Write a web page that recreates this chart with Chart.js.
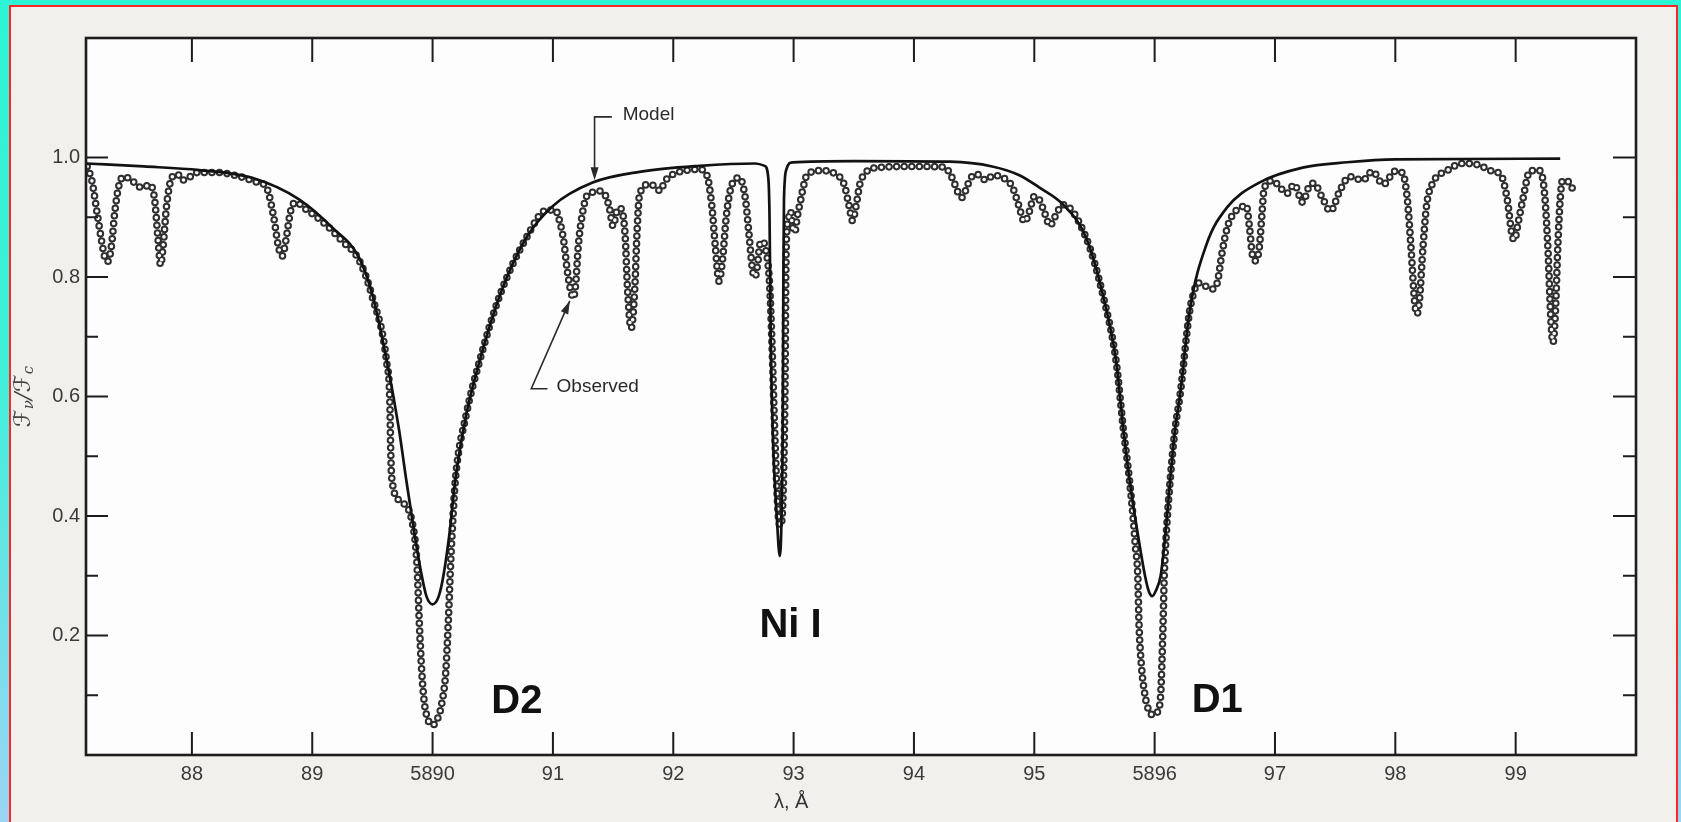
<!DOCTYPE html>
<html>
<head>
<meta charset="utf-8">
<script src="https://cdn.jsdelivr.net/npm/chart.js@4.4.1/dist/chart.umd.min.js"></script>
<style>
  html, body { margin: 0; padding: 0; }
  body {
    width: 1681px; height: 822px; overflow: hidden; position: relative;
    background: linear-gradient(180deg, #2df4d6 0%, #3ff0da 45%, #9cd4f4 100%);
  }
  #paper {
    position: absolute; left: 9px; top: 5px; width: 1665px; height: 840px;
    border: 2px solid #ff2626; border-bottom: none;
    background: #f1f0ed;
  }
  #chart { position: absolute; left: 0; top: 0; }
</style>
</head>
<body>
<div id="paper"></div>
<canvas id="chart" width="1681" height="822"></canvas>
<script>
// Na D lines spectrum: model vs observed (relative flux)
const modelLambda = [87.12, 87.6, 88.06, 88.5, 88.89, 89.17, 89.39, 89.50, 89.62, 89.72, 89.78, 89.85, 89.91, 89.95, 90.00,
  90.05, 90.09, 90.14, 90.19, 90.28, 90.39, 90.56, 90.78, 91.00, 91.33, 91.72, 92.22, 92.68, 92.76, 92.79,
  92.80, 92.81, 92.83, 92.86, 92.885, 92.90, 92.91, 92.915, 92.92, 92.94, 92.99, 93.5, 94.3, 94.65, 94.88,
  95.04, 95.24, 95.43, 95.57, 95.68, 95.74, 95.79, 95.86, 95.92, 95.95, 95.98, 96.01, 96.05, 96.09, 96.13,
  96.17, 96.21, 96.29, 96.43, 96.60, 96.87, 97.23, 97.6, 98.0, 99.37];
const modelFlux = [0.990, 0.985, 0.979, 0.966, 0.930, 0.882, 0.832, 0.770, 0.659, 0.546, 0.462, 0.370, 0.300, 0.265, 0.252,
  0.265, 0.300, 0.370, 0.462, 0.570, 0.659, 0.770, 0.866, 0.919, 0.958, 0.976, 0.986, 0.990, 0.986, 0.965,
  0.900, 0.700, 0.520, 0.400, 0.333, 0.400, 0.560, 0.800, 0.930, 0.980, 0.992, 0.994, 0.993, 0.985, 0.970,
  0.950, 0.921, 0.866, 0.770, 0.659, 0.546, 0.462, 0.370, 0.300, 0.275, 0.266, 0.275, 0.300, 0.370, 0.462,
  0.546, 0.600, 0.742, 0.854, 0.916, 0.958, 0.983, 0.992, 0.997, 0.998];

const obsLambda = [87.13, 87.17, 87.21, 87.25, 87.28, 87.30, 87.33, 87.36, 87.39, 87.43, 87.50, 87.55, 87.60, 87.65, 87.69,
  87.72, 87.74, 87.76, 87.79, 87.83, 87.88, 87.92, 87.97, 88.05, 88.20, 88.40, 88.55, 88.62, 88.68, 88.72,
  88.75, 88.78, 88.82, 88.86, 88.95, 89.10, 89.25, 89.39, 89.50, 89.62, 89.645, 89.65, 89.66, 89.73, 89.83,
  89.87, 89.89, 89.91, 89.93, 89.96, 90.00, 90.04, 90.08, 90.11, 90.13, 90.15, 90.17, 90.19, 90.28, 90.39,
  90.56, 90.78, 90.95, 91.02, 91.06, 91.09, 91.12, 91.15, 91.17, 91.19, 91.21, 91.24, 91.28, 91.33, 91.39,
  91.44, 91.47, 91.50, 91.53, 91.56, 91.60, 91.62, 91.65, 91.68, 91.70, 91.72, 91.80, 91.86, 91.89, 91.93,
  91.99, 92.10, 92.22, 92.28, 92.32, 92.35, 92.38, 92.41, 92.44, 92.48, 92.55, 92.60, 92.63, 92.66, 92.68,
  92.70, 92.72, 92.74, 92.77, 92.80, 92.82, 92.84, 92.86, 92.875, 92.89, 92.905, 92.92, 92.93, 92.935, 92.94,
  92.96, 92.975, 92.99, 93.01, 93.03, 93.06, 93.08, 93.11, 93.22, 93.35, 93.42, 93.46, 93.49, 93.52, 93.55,
  93.60, 93.70, 94.00, 94.25, 94.32, 94.37, 94.40, 94.43, 94.47, 94.52, 94.60, 94.66, 94.75, 94.82, 94.87,
  94.92, 94.96, 95.00, 95.04, 95.09, 95.13, 95.17, 95.21, 95.24, 95.43, 95.57, 95.68, 95.74, 95.79, 95.82,
  95.84, 95.86, 95.87, 95.89, 95.92, 95.95, 95.99, 96.03, 96.05, 96.06, 96.07, 96.08, 96.10, 96.13, 96.17,
  96.21, 96.29, 96.32, 96.36, 96.42, 96.48, 96.52, 96.56, 96.60, 96.65, 96.71, 96.76, 96.79, 96.81, 96.84,
  96.87, 96.89, 96.91, 96.98, 97.05, 97.10, 97.16, 97.23, 97.28, 97.32, 97.40, 97.46, 97.54, 97.62, 97.73,
  97.81, 97.90, 98.00, 98.06, 98.10, 98.13, 98.16, 98.18, 98.20, 98.23, 98.26, 98.31, 98.43, 98.56, 98.70,
  98.79, 98.88, 98.93, 98.97, 98.99, 99.02, 99.06, 99.12, 99.20, 99.24, 99.27, 99.29, 99.31, 99.33, 99.35,
  99.37, 99.39, 99.45, 99.49];
const obsFlux = [0.985, 0.960, 0.910, 0.860, 0.830, 0.826, 0.850, 0.910, 0.950, 0.968, 0.962, 0.952, 0.950, 0.955, 0.930,
  0.860, 0.820, 0.850, 0.920, 0.965, 0.972, 0.962, 0.966, 0.975, 0.975, 0.968, 0.958, 0.950, 0.900, 0.850,
  0.835, 0.860, 0.910, 0.925, 0.913, 0.890, 0.860, 0.828, 0.766, 0.655, 0.590, 0.530, 0.465, 0.425, 0.390,
  0.320, 0.220, 0.140, 0.090, 0.060, 0.050, 0.060, 0.090, 0.140, 0.220, 0.320, 0.400, 0.462, 0.570, 0.659,
  0.770, 0.866, 0.912, 0.912, 0.890, 0.860, 0.810, 0.775, 0.765, 0.790, 0.850, 0.900, 0.935, 0.942, 0.944,
  0.935, 0.915, 0.885, 0.910, 0.915, 0.870, 0.780, 0.714, 0.780, 0.880, 0.938, 0.955, 0.950, 0.944, 0.960,
  0.971, 0.978, 0.980, 0.970, 0.920, 0.850, 0.793, 0.830, 0.900, 0.950, 0.966, 0.930, 0.870, 0.810, 0.800,
  0.820, 0.855, 0.860, 0.845, 0.790, 0.690, 0.560, 0.450, 0.395, 0.384, 0.400, 0.500, 0.650, 0.800, 0.860,
  0.900, 0.910, 0.885, 0.875, 0.900, 0.930, 0.950, 0.970, 0.978, 0.972, 0.955, 0.920, 0.894, 0.920, 0.955,
  0.975, 0.983, 0.985, 0.984, 0.965, 0.940, 0.933, 0.945, 0.965, 0.972, 0.962, 0.970, 0.965, 0.950, 0.920,
  0.892, 0.910, 0.935, 0.930, 0.905, 0.886, 0.900, 0.915, 0.921, 0.866, 0.770, 0.659, 0.546, 0.462, 0.400,
  0.350, 0.300, 0.220, 0.150, 0.100, 0.075, 0.067, 0.075, 0.100, 0.150, 0.220, 0.300, 0.380, 0.462, 0.546,
  0.600, 0.742, 0.770, 0.790, 0.785, 0.780, 0.790, 0.840, 0.880, 0.905, 0.915, 0.920, 0.880, 0.840, 0.827,
  0.850, 0.900, 0.948, 0.961, 0.948, 0.940, 0.955, 0.925, 0.950, 0.957, 0.930, 0.910, 0.945, 0.968, 0.962,
  0.977, 0.955, 0.977, 0.974, 0.930, 0.850, 0.760, 0.738, 0.760, 0.850, 0.920, 0.957, 0.978, 0.990, 0.987,
  0.978, 0.970, 0.930, 0.870, 0.862, 0.890, 0.930, 0.978, 0.978, 0.940, 0.840, 0.740, 0.690, 0.740, 0.850,
  0.930, 0.962, 0.957, 0.938];

const xTickValues = [88, 89, 90, 91, 92, 93, 94, 95, 96, 97, 98, 99];
const xTickLabels = ['88', '89', '5890', '91', '92', '93', '94', '95', '5896', '97', '98', '99'];
const yTickValues = [0.2, 0.4, 0.6, 0.8, 1.0];
const yTickLabels = ['0.2', '0.4', '0.6', '0.8', '1.0'];
const yMinorValues = [0.1, 0.3, 0.5, 0.7, 0.9];

// bold line identifications (wavelength, flux of text baseline)
const lineNames = ['D2', 'Ni I', 'D1'];
const lineNameAt = [[90.70, 0.071], [92.975, 0.198], [96.52, 0.072]];

const PLOT_BG = '#fcfdfc';
const INK = '#1d1d1d';
const SANS = '"Liberation Sans", Arial, Helvetica, sans-serif';

function toPoints(xs, ys) {
    return xs.map((x, i) => ({ x: x, y: ys[i] }));
}

function arrowHead(ctx, x1, y1, x2, y2, len, half) {
    const a = Math.atan2(y2 - y1, x2 - x1);
    const bx = x2 - len * Math.cos(a), by = y2 - len * Math.sin(a);
    ctx.beginPath();
    ctx.moveTo(x2, y2);
    ctx.lineTo(bx + half * Math.sin(a), by - half * Math.cos(a));
    ctx.lineTo(bx - half * Math.sin(a), by + half * Math.cos(a));
    ctx.closePath();
    ctx.fill();
}

const plotBackground = {
    id: 'plotBackground',
    beforeDraw(chart) {
        const { ctx, chartArea: a } = chart;
        ctx.save();
        ctx.fillStyle = PLOT_BG;
        ctx.fillRect(a.left, a.top, a.right - a.left, a.bottom - a.top);
        ctx.restore();
    }
};

const frameAndNotes = {
    id: 'frameAndNotes',
    afterDatasetsDraw(chart) {
        const { ctx, chartArea: a } = chart;
        const x = chart.scales.x, y = chart.scales.y;
        const px = v => x.getPixelForValue(v);
        const py = v => y.getPixelForValue(v);
        ctx.save();
        ctx.strokeStyle = INK;
        ctx.fillStyle = INK;

        // frame
        ctx.lineWidth = 2.6;
        ctx.strokeRect(a.left, a.top, a.right - a.left, a.bottom - a.top);

        // inward ticks
        ctx.lineWidth = 2;
        ctx.beginPath();
        xTickValues.forEach(v => {
            const p = px(v);
            ctx.moveTo(p, a.bottom); ctx.lineTo(p, a.bottom - 23);
            ctx.moveTo(p, a.top); ctx.lineTo(p, a.top + 24);
        });
        yTickValues.forEach(v => {
            const p = py(v);
            ctx.moveTo(a.left, p); ctx.lineTo(a.left + 22, p);
            ctx.moveTo(a.right, p); ctx.lineTo(a.right - 23, p);
        });
        yMinorValues.forEach(v => {
            const p = py(v);
            ctx.moveTo(a.left, p); ctx.lineTo(a.left + 12, p);
            ctx.moveTo(a.right, p); ctx.lineTo(a.right - 13, p);
        });
        ctx.stroke();

        // "Model" pointer
        ctx.lineWidth = 1.6;
        ctx.strokeStyle = '#2a2a2a';
        ctx.fillStyle = '#2a2a2a';
        const mx = px(91.346), my = py(1.068), mTip = py(0.962);
        ctx.beginPath();
        ctx.moveTo(px(91.49), my); ctx.lineTo(mx, my); ctx.lineTo(mx, mTip - 8);
        ctx.stroke();
        arrowHead(ctx, mx, my, mx, mTip, 13, 4);

        // "Observed" pointer
        const ox = px(90.82), oy = py(0.613), tx = px(91.14), ty = py(0.76);
        ctx.beginPath();
        ctx.moveTo(px(90.955), oy); ctx.lineTo(ox, oy); ctx.lineTo(tx, ty);
        ctx.stroke();
        arrowHead(ctx, ox, oy, tx, ty, 13, 4);

        ctx.font = '19px ' + SANS;
        ctx.textBaseline = 'middle';
        ctx.textAlign = 'left';
        ctx.fillText('Model', px(91.58), py(1.071));
        ctx.fillText('Observed', px(91.03), py(0.617));

        // line identifications
        ctx.fillStyle = '#111';
        ctx.font = 'bold 40px ' + SANS;
        ctx.textAlign = 'center';
        ctx.textBaseline = 'alphabetic';
        lineNames.forEach((t, i) => {
            ctx.fillText(t, px(lineNameAt[i][0]), py(lineNameAt[i][1]));
        });

        // x axis title
        ctx.fillStyle = '#333';
        ctx.font = '20px ' + SANS;
        ctx.textBaseline = 'middle';
        ctx.fillText('λ, Å', px(92.98), a.bottom + 47);

        // y axis title  (F_nu / F_c), rotated
        ctx.translate(a.left - 62, py(0.6));
        ctx.rotate(-Math.PI / 2);
        const big = 'italic 23px "DejaVu Serif", "DejaVu Sans", serif';
        const small = 'italic 15px "DejaVu Serif", "DejaVu Sans", serif';
        const parts = [['ℱ', big, 0], ['ν', small, 5], ['/', big, 0], ['ℱ', big, 0], ['c', small, 5]];
        let w = 0;
        parts.forEach(p => { ctx.font = p[1]; w += ctx.measureText(p[0]).width; });
        let cx = -w / 2;
        ctx.textAlign = 'left';
        ctx.textBaseline = 'middle';
        ctx.fillStyle = '#444';
        parts.forEach(p => {
            ctx.font = p[1];
            ctx.fillText(p[0], cx, p[2]);
            cx += ctx.measureText(p[0]).width;
        });
        ctx.restore();
    }
};

const observedPoints = toPoints(obsLambda, obsFlux);

new Chart(document.getElementById('chart'), {
    type: 'scatter',
    data: {
        datasets: [
            {
                label: 'Model',
                data: toPoints(modelLambda, modelFlux),
                showLine: true,
                borderColor: '#121212',
                borderWidth: 2.7,
                pointRadius: 0,
                cubicInterpolationMode: 'monotone'
            },
            {
                // inner part of the open circles
                label: 'Observed (inner)',
                data: observedPoints,
                showLine: true,
                borderColor: PLOT_BG,
                borderWidth: 3.6,
                borderDash: [0, 7.6],
                borderCapStyle: 'round',
                pointRadius: 0,
                cubicInterpolationMode: 'monotone'
            },
            {
                label: 'Observed',
                data: observedPoints,
                showLine: true,
                borderColor: '#2f2f2f',
                borderWidth: 7.6,
                borderDash: [0, 7.6],
                borderCapStyle: 'round',
                pointRadius: 0,
                cubicInterpolationMode: 'monotone'
            }
        ]
    },
    options: {
        responsive: false,
        devicePixelRatio: 1,
        animation: false,
        layout: { padding: { top: 38, right: 45, left: 0, bottom: 0 } },
        plugins: {
            legend: { display: false },
            tooltip: { enabled: false }
        },
        scales: {
            x: {
                type: 'linear',
                min: 87.12,
                max: 100.0,
                grid: { display: false, drawTicks: false },
                border: { display: false },
                afterBuildTicks: s => { s.ticks = xTickValues.map(v => ({ value: v })); },
                afterFit: s => { s.height = 67; },
                ticks: {
                    autoSkip: false,
                    maxRotation: 0,
                    padding: 7,
                    color: '#3a3a3a',
                    font: { family: SANS, size: 20 },
                    callback: (v, i) => xTickLabels[i]
                }
            },
            y: {
                type: 'linear',
                min: 0,
                max: 1.2,
                grid: { display: false, drawTicks: false },
                border: { display: false },
                afterBuildTicks: s => { s.ticks = yTickValues.map(v => ({ value: v })); },
                afterFit: s => { s.width = 86; },
                ticks: {
                    padding: 6,
                    color: '#3a3a3a',
                    font: { family: SANS, size: 20 },
                    callback: (v, i) => yTickLabels[i]
                }
            }
        }
    },
    plugins: [plotBackground, frameAndNotes]
});
</script>
</body>
</html>
